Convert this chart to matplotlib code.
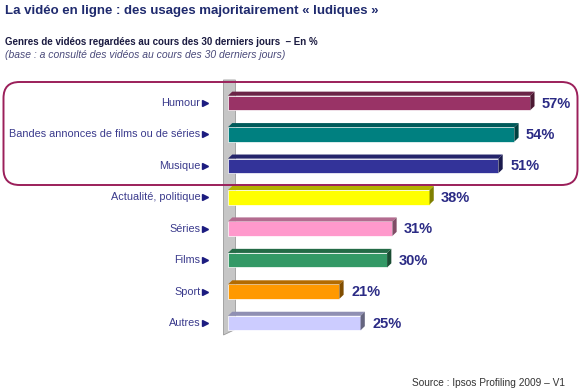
import matplotlib
matplotlib.use("Agg")
import matplotlib.pyplot as plt
import numpy as np
from matplotlib.patches import Polygon, FancyBboxPatch
from matplotlib.colors import to_rgb

plt.rcParams["font.family"] = ["Liberation Sans", "DejaVu Sans"]

categories = ["Humour", "Bandes annonces de films ou de séries", "Musique",
              "Actualité, politique", "Séries", "Films", "Sport", "Autres"]
values = [57, 54, 51, 38, 31, 30, 21, 25]
colors = ["#993366", "#008080", "#333399", "#ffff00",
          "#ff99cc", "#339966", "#ff9900", "#ccccff"]

TITLE = "La vidéo en ligne : des usages majoritairement « ludiques »"
SUBTITLE = "Genres de vidéos regardées au cours des 30 derniers jours  – En %"
BASE = "(base : a consulté des vidéos au cours des 30 derniers jours)"
SOURCE = "Source : Ipsos Profiling 2009 – V1"

NAVY = "#2b2b85"


def darker(color, f=0.6):
    return tuple(c * f for c in to_rgb(color))


fig = plt.figure(figsize=(5.8, 3.91), dpi=100)
fig.patch.set_facecolor("white")
W, H = 580, 391
ax = fig.add_axes([228 / W, (H - 335) / H, 350 / W, 255 / H])
ax.set_xlim(0, 66)
ax.set_ylim(7.38, -0.73)
ax.axis("off")

# back wall
ax.add_patch(Polygon([(-0.85, -0.73), (1.4, -0.73), (1.4, 7.2), (-0.85, 7.38)],
                     closed=True, facecolor="#c6c6c6", edgecolor="#9a9a9a",
                     linewidth=0.6, clip_on=False, zorder=1))

y = np.arange(len(categories))
h = 0.46
dx, dy = 0.8, 0.13
bars = ax.barh(y, values, height=h, color=colors, edgecolor="white",
               linewidth=0.5, zorder=3)
for yi, v, c in zip(y, values, colors):
    top = yi - h / 2
    bot = yi + h / 2
    ax.add_patch(Polygon([(0, top), (v, top), (v + dx, top - dy), (dx, top - dy)],
                         closed=True, facecolor=darker(c, 0.7), edgecolor="none",
                         zorder=3, clip_on=False))
    ax.add_patch(Polygon([(v, top), (v + dx, top - dy), (v + dx, bot - dy), (v, bot)],
                         closed=True, facecolor=darker(c, 0.5), edgecolor="none",
                         zorder=3, clip_on=False))
    ax.text(v + 2.2, yi + 0.02, f"{v}%", ha="left", va="center",
            fontsize=10.5, fontweight="bold", color=NAVY, clip_on=False)
    ax.text(-5.2, yi, categories[yi], ha="right", va="center",
            fontsize=7.85, color="#3a3a8c", clip_on=False)
ax.plot(np.full(len(y), -4.3), y, linestyle="none", marker=">", markersize=5,
        color="#1c1c80", clip_on=False)

# highlight box around the top three
fig.patches.append(FancyBboxPatch((0.035, (H - 185) / 100), 5.74, 1.03,
                                  boxstyle="round,pad=0,rounding_size=0.16",
                                  transform=fig.dpi_scale_trans,
                                  facecolor="none", edgecolor="#9b1f5a",
                                  linewidth=1.4, zorder=5))

fig.text(5 / W, 1 - 11 / H, TITLE, ha="left", va="center", fontsize=9.5,
         fontweight="bold", color="#1f2a6e")
fig.text(5 / W, 1 - 42 / H, SUBTITLE, ha="left", va="center", fontsize=7.0,
         fontweight="bold", color="#1a1a40")
fig.text(5 / W, 1 - 55 / H, BASE, ha="left", va="center", fontsize=7.5,
         style="italic", color="#4a4a7a")
fig.text(565 / W, 1 - 383 / H, SOURCE, ha="right", va="center", fontsize=7.3,
         color="#333333")

fig.savefig("out.png", dpi=100)
